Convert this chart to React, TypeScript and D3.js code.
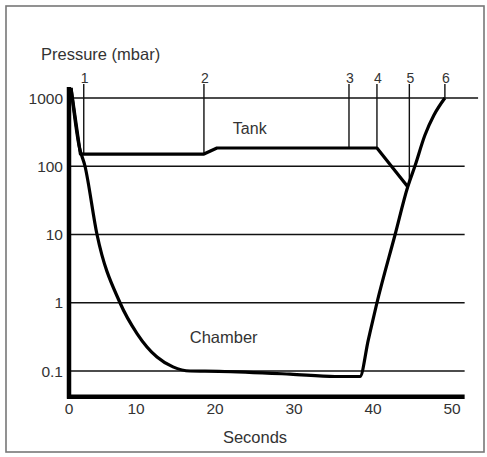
import React from 'react'
import * as d3 from 'd3'

// values (seconds, mbar)
const chamber: [number, number][] = [
  [0.3, 1400],
  [1.5, 200],
  [2.39, 100],
  [4.18, 10],
  [7.61, 1],
  [10.13, 0.354],
  [12.66, 0.16],
  [14.68, 0.115],
  [16.84, 0.1],
  [20.5, 0.099],
  [29.5, 0.09],
  [35.2, 0.083],
  [38.35, 0.083],
  [39.4, 0.284],
  [40.5, 1],
  [42.8, 10],
  [44.4, 50],
  [45.3, 100],
  [46.58, 287],
  [47.72, 563],
  [49.1, 1000],
]
const tank: [number, number][] = [
  [0.3, 1400],
  [1.7, 151],
  [18.6, 151],
  [20.25, 185],
  [40.5, 185],
  [44.4, 50],
]
const markers = [
  {label: '1', t: 2.2, p: 151},
  {label: '2', t: 18.6, p: 151},
  {label: '3', t: 36.96, p: 185},
  {label: '4', t: 40.5, p: 185},
  {label: '5', t: 44.6, p: 55},
  {label: '6', t: 49.1, p: 1000},
]
const xTicks = [0, 10, 20, 30, 40, 50]
const yTicks = [1000, 100, 10, 1, 0.1]
const yTickLabels = ['1000', '100', '10', '1', '0.1']
const xMax = 51.6
const gridEnd1000 = 53.3
const yMin = 0.042
const yMax = 1450

const W = 487
const H = 457

export default function App() {
  // the printed time axis is not quite uniform, so a piecewise scale follows it
  const x = d3.scaleLinear().domain([0, 10, 50]).range([69, 136, 452])
  const y = d3.scaleLog().domain([0.1, 1000]).range([371, 98])

  const line = d3
    .line<[number, number]>()
    .x(d => x(d[0]))
    .y(d => y(d[1]))
  const smooth = d3
    .line<[number, number]>()
    .x(d => x(d[0]))
    .y(d => y(d[1]))
    .curve(d3.curveMonotoneX)

  const font = '"Liberation Sans", Arial, sans-serif'
  const ink = '#333'

  return (
    <svg
      width={W}
      height={H}
      style={{position: 'absolute', left: 0, top: 0, background: '#fff'}}
      fontFamily={font}>
      <rect x={6} y={6} width={478} height={446} fill="none" stroke="#777" strokeWidth={1.6} />

      <text x={41} y={60} fontSize={16.5} fill={ink}>
        Pressure (mbar)
      </text>

      {/* grid */}
      {yTicks.map((v, i) => (
        <g key={v}>
          <line
            x1={x(0)}
            x2={x(v === 1000 ? gridEnd1000 : xMax)}
            y1={y(v)}
            y2={y(v)}
            stroke="#111"
            strokeWidth={1.5}
          />
          <text x={63} y={y(v)} dy="0.36em" textAnchor="end" fontSize={15.5} fill={ink}>
            {yTickLabels[i]}
          </text>
        </g>
      ))}

      {/* axes */}
      <line x1={x(0)} x2={x(0)} y1={y(yMin) + 2} y2={y(yMax)} stroke="#000" strokeWidth={4.5} />
      <line x1={x(0) - 2} x2={x(xMax)} y1={y(yMin)} y2={y(yMin)} stroke="#000" strokeWidth={4.5} />
      {xTicks.map(t => (
        <text key={t} x={x(t)} y={414} textAnchor="middle" fontSize={15.5} fill={ink}>
          {t}
        </text>
      ))}
      <text x={255} y={443} textAnchor="middle" fontSize={16.5} fill={ink}>
        Seconds
      </text>

      {/* event markers */}
      {markers.map(m => (
        <g key={m.label}>
          <line x1={x(m.t)} x2={x(m.t)} y1={84} y2={y(m.p)} stroke="#111" strokeWidth={1.4} />
          <text x={x(m.t) + 1} y={83} textAnchor="middle" fontSize={14} fill={ink}>
            {m.label}
          </text>
        </g>
      ))}

      <path d={line(tank) ?? ''} fill="none" stroke="#000" strokeWidth={3.2} strokeLinejoin="round" />
      <path d={smooth(chamber) ?? ''} fill="none" stroke="#000" strokeWidth={3.2} strokeLinejoin="round" />

      <text x={x(24.4)} y={y(363)} dy="0.36em" textAnchor="middle" fontSize={16} fill={ink}>
        Tank
      </text>
      <text x={x(21.1)} y={y(0.315)} dy="0.36em" textAnchor="middle" fontSize={16.5} fill={ink}>
        Chamber
      </text>
    </svg>
  )
}
